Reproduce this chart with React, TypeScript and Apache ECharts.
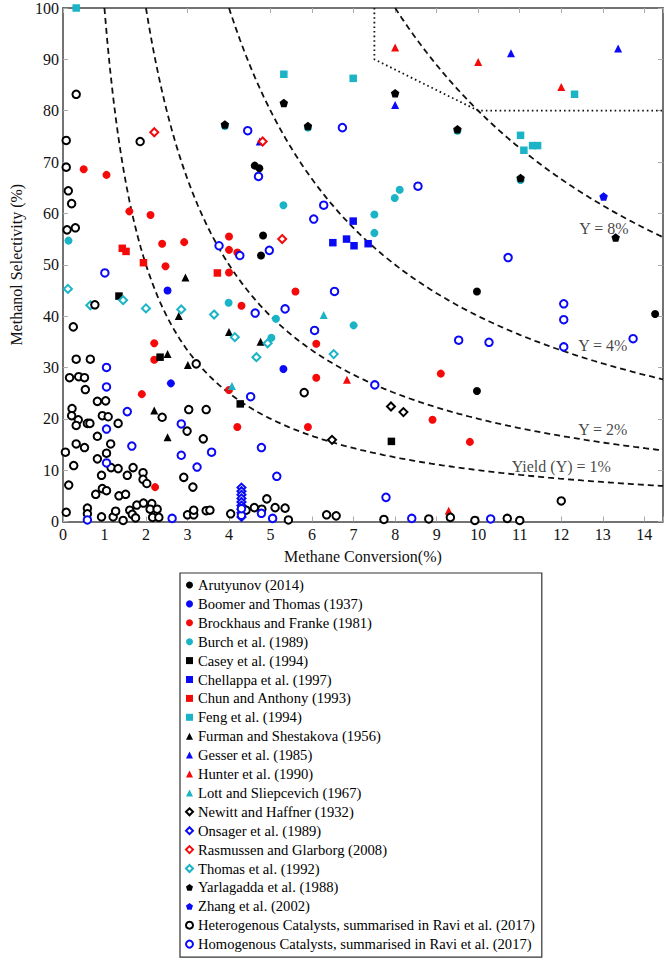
import React, { useEffect, useRef } from 'react';
import * as echarts from 'echarts';

const FONT = '"Liberation Serif", "Times New Roman", "DejaVu Serif", serif';

const BLACK = '#000000';
const BLUE = '#0a0af5';
const RED = '#f50a0a';
const CYAN = '#1ab4c6';

const X_MAX = 14.45;
const Y_MAX = 100;

// ---- data (x = methane conversion %, y = methanol selectivity %) ----
const arutyunov = [[4.62, 69.3], [4.73, 68.8], [4.82, 55.7], [4.77, 51.8], [9.97, 44.8], [14.26, 40.4], [9.97, 25.4]];
const boomer = [[2.52, 45.0], [2.6, 26.9], [5.31, 29.7]];
const brockhaus = [
  [0.5, 68.6], [1.05, 67.5], [1.6, 60.4], [2.11, 59.7], [2.39, 54.1], [2.92, 54.4], [2.47, 49.7],
  [4.0, 55.5], [4.0, 52.9], [4.2, 52.4], [4.0, 48.5], [4.3, 42.0], [5.6, 44.8], [2.2, 34.7],
  [2.2, 31.5], [1.9, 24.8], [4.0, 25.6], [4.2, 18.4], [6.1, 34.6], [6.1, 28.0], [5.9, 18.4],
  [9.1, 28.8], [8.9, 19.8], [9.8, 15.5], [2.22, 6.7],
];
const burch = [
  [0.135, 54.7], [3.9, 77.0], [5.9, 76.7], [9.5, 76.1], [11.02, 66.5], [5.31, 61.6], [8.11, 64.6],
  [7.99, 63.0], [7.5, 59.8], [7.5, 56.2], [3.99, 42.6], [5.13, 39.5], [7.0, 38.2], [5.02, 35.8],
];
const casey = [[1.35, 43.9], [2.34, 32.0], [4.27, 22.9], [7.91, 15.6]];
const chellappa = [[6.99, 58.5], [6.5, 54.3], [6.83, 55.0], [7.01, 53.7], [7.35, 54.1]];
const chun = [[1.43, 53.2], [1.52, 52.6], [1.94, 50.4], [3.72, 48.4]];
const feng = [[0.32, 100], [5.32, 87.1], [6.99, 86.3], [11.02, 75.2], [11.1, 72.3], [11.31, 73.2], [11.43, 73.2], [12.32, 83.2]];
const furman = [[2.95, 47.5], [2.79, 40.0], [2.52, 32.6], [3.01, 30.5], [2.2, 21.6], [2.52, 16.4], [4.0, 36.9], [4.76, 35.0]];
const gesser = [[8.0, 81.1], [4.74, 74.0], [10.79, 91.2], [13.37, 92.1]];
const hunter = [[8.0, 92.3], [10.0, 89.5], [12.0, 84.6], [6.84, 27.6], [9.29, 2.1]];
const lott = [[6.28, 40.2], [4.07, 26.4]];
const newitt = [[7.9, 22.4], [8.2, 21.3], [6.48, 15.9]];
const onsager = [[4.3, 6.6], [4.3, 5.9], [4.3, 5.2], [4.3, 4.5], [4.3, 3.8], [4.3, 3.1], [4.3, 2.4], [4.3, 1.7], [4.3, 0.9]];
const rasmussen = [[2.2, 75.8], [4.81, 74.0], [5.28, 55.0]];
const thomas = [[0.12, 45.3], [0.66, 42.1], [1.45, 43.1], [2.0, 41.5], [2.85, 41.3], [3.64, 40.3], [4.14, 35.9], [4.93, 34.7], [4.66, 32.0], [6.52, 32.6]];
const yarlagadda = [[5.32, 81.5], [8.0, 83.4], [3.9, 77.3], [5.9, 77.0], [9.5, 76.4], [11.02, 66.9], [13.31, 55.3]];
const zhang = [[13.02, 63.3]];
const heterogenous = [
  [0.32, 83.2], [0.08, 74.2], [1.86, 74.0], [0.08, 69.0], [0.13, 64.4], [0.21, 61.9], [0.1, 56.8], [0.3, 57.2],
  [0.77, 42.2], [0.25, 37.9], [3.21, 30.7], [0.32, 31.6], [0.66, 31.6], [0.16, 28.0], [0.38, 28.2], [0.52, 28.0],
  [0.54, 25.7], [0.83, 23.4], [1.03, 23.5], [0.22, 22.0], [0.21, 20.6], [0.37, 19.8], [0.32, 18.7], [0.59, 19.1],
  [0.65, 19.1], [0.95, 20.6], [1.09, 20.4], [1.33, 19.1], [2.39, 20.3], [3.03, 21.8], [3.45, 21.8], [2.99, 17.6],
  [3.38, 16.1], [0.83, 16.6], [1.15, 15.1], [0.32, 15.1], [0.52, 14.4], [0.06, 13.5], [1.05, 13.3], [0.83, 12.2],
  [0.26, 10.9], [0.14, 7.1], [0.93, 9.0], [1.16, 10.5], [1.33, 10.3], [1.55, 9.0], [1.69, 10.5], [1.93, 9.5],
  [1.93, 8.2], [2.02, 7.4], [0.79, 5.3], [0.95, 6.4], [1.05, 6.0], [1.35, 5.0], [1.51, 5.3], [2.91, 8.6],
  [3.13, 6.7], [0.08, 1.8], [0.59, 2.6], [0.59, 1.5], [0.93, 0.9], [1.21, 0.9], [1.27, 2.0], [1.45, 0.2],
  [1.61, 2.2], [1.67, 1.4], [1.75, 0.7], [1.78, 3.2], [1.94, 3.6], [2.14, 3.5], [2.1, 2.4], [2.27, 2.4],
  [2.16, 0.8], [2.31, 0.8], [3.0, 1.3], [3.15, 1.3], [3.15, 2.2], [3.45, 2.1], [3.54, 2.2], [4.04, 1.5],
  [4.41, 2.2], [4.61, 2.7], [4.79, 2.4], [4.91, 4.4], [5.11, 2.7], [5.35, 2.6], [5.43, 0.3], [6.35, 1.3],
  [6.58, 1.1], [7.73, 0.4], [8.81, 0.5], [9.33, 0.8], [9.92, 0.2], [10.7, 0.6], [11.0, 0.2], [12.0, 4.0],
  [5.81, 25.1],
];
const homogenous = [
  [4.45, 76.1], [6.73, 76.7], [4.71, 67.2], [6.28, 61.6], [6.04, 58.9], [8.55, 65.3], [3.76, 53.7], [4.26, 51.8],
  [4.97, 52.8], [6.54, 44.8], [4.63, 40.6], [5.35, 41.4], [6.06, 37.2], [1.01, 48.4], [7.51, 26.6], [9.53, 35.3],
  [4.52, 24.3], [4.78, 14.4], [10.72, 51.4], [12.06, 42.4], [12.06, 39.3], [10.26, 34.9], [12.06, 34.0], [13.73, 35.6],
  [1.05, 30.0], [1.05, 26.2], [1.55, 21.4], [1.05, 18.0], [1.66, 14.7], [1.05, 11.4], [2.85, 19.0], [3.58, 13.5],
  [2.85, 12.9], [3.23, 10.6], [0.59, 0.3], [2.63, 0.6], [5.15, 8.8], [7.78, 4.7], [4.78, 1.6], [5.05, 0.6],
  [8.4, 0.6], [10.3, 0.5], [4.3, 1.2], [4.3, 2.5],
];

// iso-yield guide curves (yield % = conversion × selectivity / 100)
const YIELDS = [1, 2, 4, 8];
const YIELD_LABEL_TEXT = ['Yield (Y) = 1%', 'Y = 2%', 'Y = 4%', 'Y = 8%'];
const YIELD_LABEL_AT = [[12.0, 10.8], [13.0, 17.9], [13.0, 34.2], [13.03, 57.0]];
// dotted target-region boundary
const TARGET_BOUNDARY = [[7.5, 100], [7.5, 90], [10, 80], [X_MAX, 80]];

const PENTAGON = 'path://M50,0 L97.55,34.55 L79.39,90.45 L20.61,90.45 L2.45,34.55 Z';

type S = { name: string; data: number[][]; symbol: string; color: string; size: number; empty?: boolean };
const SERIES: S[] = [
  { name: 'Arutyunov (2014)', data: arutyunov, symbol: 'circle', color: BLACK, size: 8 },
  { name: 'Boomer and Thomas (1937)', data: boomer, symbol: 'circle', color: BLUE, size: 8 },
  { name: 'Brockhaus and Franke (1981)', data: brockhaus, symbol: 'circle', color: RED, size: 8 },
  { name: 'Burch et al. (1989)', data: burch, symbol: 'circle', color: CYAN, size: 8 },
  { name: 'Casey et al. (1994)', data: casey, symbol: 'rect', color: BLACK, size: 7.5 },
  { name: 'Chellappa et al. (1997)', data: chellappa, symbol: 'rect', color: BLUE, size: 7.5 },
  { name: 'Chun and Anthony (1993)', data: chun, symbol: 'rect', color: RED, size: 7.5 },
  { name: 'Feng et al. (1994)', data: feng, symbol: 'rect', color: CYAN, size: 7.5 },
  { name: 'Furman and Shestakova (1956)', data: furman, symbol: 'triangle', color: BLACK, size: 8 },
  { name: 'Gesser et al. (1985)', data: gesser, symbol: 'triangle', color: BLUE, size: 8 },
  { name: 'Hunter et al. (1990)', data: hunter, symbol: 'triangle', color: RED, size: 8 },
  { name: 'Lott and Sliepcevich (1967)', data: lott, symbol: 'triangle', color: CYAN, size: 8 },
  { name: 'Newitt and Haffner (1932)', data: newitt, symbol: 'emptyDiamond', color: BLACK, size: 8, empty: true },
  { name: 'Onsager et al. (1989)', data: onsager, symbol: 'emptyDiamond', color: BLUE, size: 8, empty: true },
  { name: 'Rasmussen and Glarborg (2008)', data: rasmussen, symbol: 'emptyDiamond', color: RED, size: 8, empty: true },
  { name: 'Thomas et al. (1992)', data: thomas, symbol: 'emptyDiamond', color: CYAN, size: 8, empty: true },
  { name: 'Yarlagadda et al. (1988)', data: yarlagadda, symbol: PENTAGON, color: BLACK, size: 8.5 },
  { name: 'Zhang et al. (2002)', data: zhang, symbol: PENTAGON, color: BLUE, size: 8.5 },
  { name: 'Heterogenous Catalysts, summarised in Ravi et al. (2017)', data: heterogenous, symbol: 'emptyCircle', color: BLACK, size: 7.5, empty: true },
  { name: 'Homogenous Catalysts, summarised in Ravi et al. (2017)', data: homogenous, symbol: 'emptyCircle', color: BLUE, size: 7.5, empty: true },
];

function yieldCurve(y: number): number[][] {
  const pts: number[][] = [];
  const steps = 200;
  for (let i = 0; i <= steps; i++) {
    const x = y + ((X_MAX - y) * i) / steps;
    pts.push([x, (100 * y) / x]);
  }
  return pts;
}

export default function App() {
  const ref = useRef<HTMLDivElement>(null);
  useEffect(() => {
    if (!ref.current) return;
    const chart = echarts.init(ref.current, undefined, { renderer: 'svg' });
    const axisLine = { show: true, onZero: false, lineStyle: { color: '#444', width: 1.5 } };
    const tick = { show: true, inside: true, length: 5, lineStyle: { color: '#aaa', width: 1 } };
    const labelText = { fontFamily: FONT, fontSize: 16, color: '#111' };

    const curveSeries: any[] = YIELDS.map((y) => ({
      type: 'line',
      name: 'yield' + y,
      data: yieldCurve(y),
      showSymbol: false,
      silent: true,
      clip: true,
      lineStyle: { color: '#111', width: 1.8, type: [6, 4] },
      z: 1,
    }));
    curveSeries.push({
      type: 'line',
      name: 'target',
      data: TARGET_BOUNDARY,
      showSymbol: false,
      silent: true,
      lineStyle: { color: '#111', width: 1.8, type: [1.6, 3] },
      z: 1,
    });
    curveSeries.push({
      type: 'scatter',
      name: 'yieldLabels',
      symbolSize: 0,
      silent: true,
      data: YIELD_LABEL_AT.map((p, i) => ({ value: p, name: YIELD_LABEL_TEXT[i] })),
      label: {
        show: true,
        position: 'inside',
        formatter: (p: any) => p.name,
        ...labelText,
      },
      z: 1,
    });

    const scatterSeries = SERIES.map((s) => ({
      type: 'scatter',
      name: s.name,
      data: s.data,
      symbol: s.symbol,
      symbolSize: s.size,
      itemStyle: s.empty
        ? { color: s.color, borderColor: s.color, borderWidth: 1.7, opacity: 1 }
        : { color: s.color, borderWidth: 0, opacity: 1 },
      emphasis: { disabled: true },
      z: 3,
    }));

    chart.setOption({
      animation: false,
      backgroundColor: '#fff',
      textStyle: { fontFamily: FONT },
      grid: { left: 55, right: 3, top: 5, bottom: 436.5, containLabel: false },
      xAxis: [
        {
          type: 'value', min: 0, max: X_MAX, interval: 1, position: 'bottom',
          axisLine, axisTick: tick, splitLine: { show: false },
          axisLabel: { ...labelText, margin: 5, formatter: (v: number) => (Number.isInteger(v) ? String(v) : '') },
          name: 'Methane Conversion(%)', nameLocation: 'middle', nameGap: 27,
          nameTextStyle: { ...labelText },
        },
        {
          type: 'value', min: 0, max: X_MAX, interval: 1, position: 'top',
          axisLine, axisTick: tick, splitLine: { show: false }, axisLabel: { show: false },
        },
      ],
      yAxis: [
        {
          type: 'value', min: 0, max: Y_MAX, interval: 10, position: 'left',
          axisLine, axisTick: tick, splitLine: { show: false },
          axisLabel: { ...labelText, margin: 4 },
          name: 'Methanol Selectivity (%)', nameLocation: 'middle', nameGap: 37,
          nameTextStyle: { ...labelText },
        },
        {
          type: 'value', min: 0, max: Y_MAX, interval: 10, position: 'right',
          axisLine, axisTick: tick, splitLine: { show: false }, axisLabel: { show: false },
        },
      ],
      legend: {
        data: SERIES.map((s) => s.name),
        orient: 'vertical',
        left: 180,
        top: 573,
        itemWidth: 7,
        itemHeight: 7,
        itemGap: 2.9,
        padding: [4, 7, 5, 5],
        borderColor: '#333',
        borderWidth: 1.2,
        selectedMode: false,
        textStyle: { fontFamily: FONT, fontSize: 14.6, color: '#000', lineHeight: 16 },
      },
      series: [...curveSeries, ...scatterSeries],
    });
    return () => chart.dispose();
  }, []);

  return (
    <div
      ref={ref}
      style={{ position: 'fixed', left: 0, top: 0, width: 666, height: 958, background: '#fff' }}
    />
  );
}
